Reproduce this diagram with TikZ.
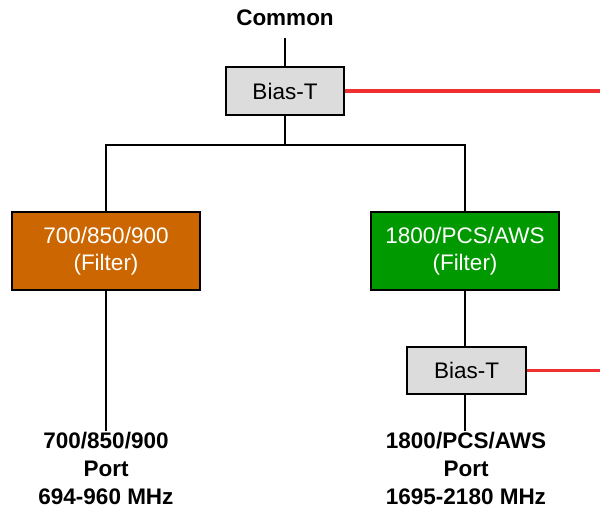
\documentclass[tikz,border=0pt]{standalone}
\usepackage{fontspec}
\setmainfont{Liberation Sans}
\usepackage{xcolor}
\usetikzlibrary{positioning,calc}
\definecolor{biasgray}{HTML}{DCDCDC}
\definecolor{lowband}{HTML}{CC6600}
\definecolor{highband}{HTML}{009900}
\definecolor{dcred}{HTML}{F03030}

\tikzset{
    biasbox/.style={draw=black, line width=1.7pt, fill=biasgray, minimum width=2.95cm, minimum height=1.2cm,
        font=\fontsize{16}{19}\selectfont},
    filterbox/.style={draw=black, line width=1.7pt, minimum width=4.7cm, minimum height=1.95cm, text=white,
        align=center, font=\fontsize{16}{19}\selectfont},
    portlabel/.style={align=center, inner sep=1pt, font=\bfseries\fontsize{16}{19.9}\selectfont},
    wire/.style={line width=1.4pt, black},
    dcwire/.style={line width=2.2pt, dcred}
}

\begin{document}
\begin{tikzpicture}[x=0.025cm, y=-0.025cm]
    \useasboundingbox (0,0) rectangle (600,508);

    % Top of the tree
    \node[font=\bfseries\fontsize{16}{19}\selectfont] (common) at (285,18) {Common};
    \coordinate (dcin) at (600,91);
    \draw[dcwire] (285,91) -- (dcin);
    \node[biasbox] (bias1) at (285,91) {Bias-T};
    \coordinate (split) at (285,145);

    % Filters
    \node[filterbox, fill=lowband] (f700) at (106,251) {700/850/900\\(Filter)};
    \node[filterbox, fill=highband] (f1800) at (465,251) {1800/PCS/AWS\\(Filter)};

    % Second Bias-T
    \coordinate (dcout) at (600,370.5);
    \draw[dcwire, line width=1.6pt] (466,370.5) -- (dcout);
    \node[biasbox, minimum width=2.975cm, minimum height=1.175cm] (bias2) at (466.5,370.5) {Bias-T};

    % Ports
    \node[portlabel, anchor=north] (p700) at (106,431) {700/850/900\\Port\\694-960 MHz};
    \node[portlabel, anchor=north] (p1800) at (466,431) {1800/PCS/AWS\\Port\\1695-2180 MHz};

    % Connections
    \draw[wire, shorten <=5pt] (common.south) -- (bias1.north);
    \draw[wire] (bias1.south) -- (split) -| (f700.north);
    \draw[wire] (split) -| (f1800.north);
    \draw[wire] (f700.south) -- (p700.north);
    \draw[wire] (f1800.south) -- (f1800.south |- bias2.north);
    \draw[wire] (bias2.south -| f1800.south) -- (p1800.north -| f1800.south);
\end{tikzpicture}
\end{document}
